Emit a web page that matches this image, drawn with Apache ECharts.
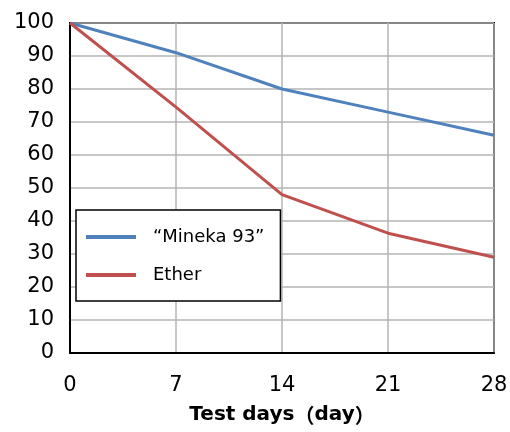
<!DOCTYPE html>
<html><head><meta charset="utf-8">
<script src="https://cdn.jsdelivr.net/npm/echarts@6/dist/echarts.min.js"></script>
<style>html,body{margin:0;padding:0;background:#fff}#c{width:510px;height:432px}</style>
</head><body><div id="c"></div>
<script>
const days = [0, 7, 14, 21, 28];
const mineka = [100, 91, 80, 73, 66];
const ether = [100, 74.5, 48, 36.3, 29];
const seriesNames = ['\u201cMineka 93\u201d', 'Ether'];
const xNameMain = 'Test days';
const xNameUnit = 'day';
const font = 'DejaVu Sans';
const chart = echarts.init(document.getElementById('c'), null, {renderer: 'canvas'});
chart.setOption({
  animation: false,
  backgroundColor: '#fff',
  grid: {left: 70, right: 16, top: 23, bottom: 79, show: true, borderColor: '#000', borderWidth: 2,
         containLabel: false, outerBoundsMode: 'none'},
  legend: {
    orient: 'vertical', left: 76, top: 210,
    data: seriesNames.map(n => ({name: n, icon: 'rect'})),
    itemWidth: 50, itemHeight: 4, itemGap: 20,
    padding: [18, 16, 17, 10],
    borderColor: '#000', borderWidth: 1.5, backgroundColor: '#fff',
    textStyle: {fontFamily: font, fontSize: 18, color: '#000', padding: [0, 0, 0, 12]}
  },
  xAxis: {
    type: 'value', min: 0, max: 28, interval: 7,
    name: '{a|' + xNameMain + '}{b|\uff08}{a|' + xNameUnit + '}{b|\uff09}',
    nameLocation: 'middle', nameGap: 52,
    nameTextStyle: {
      rich: {
        a: {fontFamily: font, fontSize: 20, fontWeight: 'bold', color: '#000'},
        b: {fontFamily: 'Noto Sans CJK JP', fontSize: 20, fontWeight: 'bold', color: '#000'}
      }
    },
    axisLine: {show: true, lineStyle: {color: '#000', width: 2}},
    axisTick: {show: false},
    axisLabel: {fontFamily: font, fontSize: 21, color: '#000', margin: 22},
    splitLine: {show: true, lineStyle: {color: '#b4b4b4', width: 1.5}}
  },
  yAxis: {
    type: 'value', min: 0, max: 100, interval: 10,
    axisLine: {show: true, lineStyle: {color: '#000', width: 2}},
    axisTick: {show: false},
    axisLabel: {fontFamily: font, fontSize: 21, color: '#000', margin: 16},
    splitLine: {show: true, lineStyle: {color: '#b4b4b4', width: 1.5}}
  },
  series: [
    {name: seriesNames[0], type: 'line', symbol: 'none', data: days.map((d, i) => [d, mineka[i]]),
     lineStyle: {color: '#4F81BD', width: 3}, itemStyle: {color: '#4F81BD'}},
    {name: seriesNames[1], type: 'line', symbol: 'none', data: days.map((d, i) => [d, ether[i]]),
     lineStyle: {color: '#C0504D', width: 3}, itemStyle: {color: '#C0504D'}}
  ]
});
</script></body></html>
